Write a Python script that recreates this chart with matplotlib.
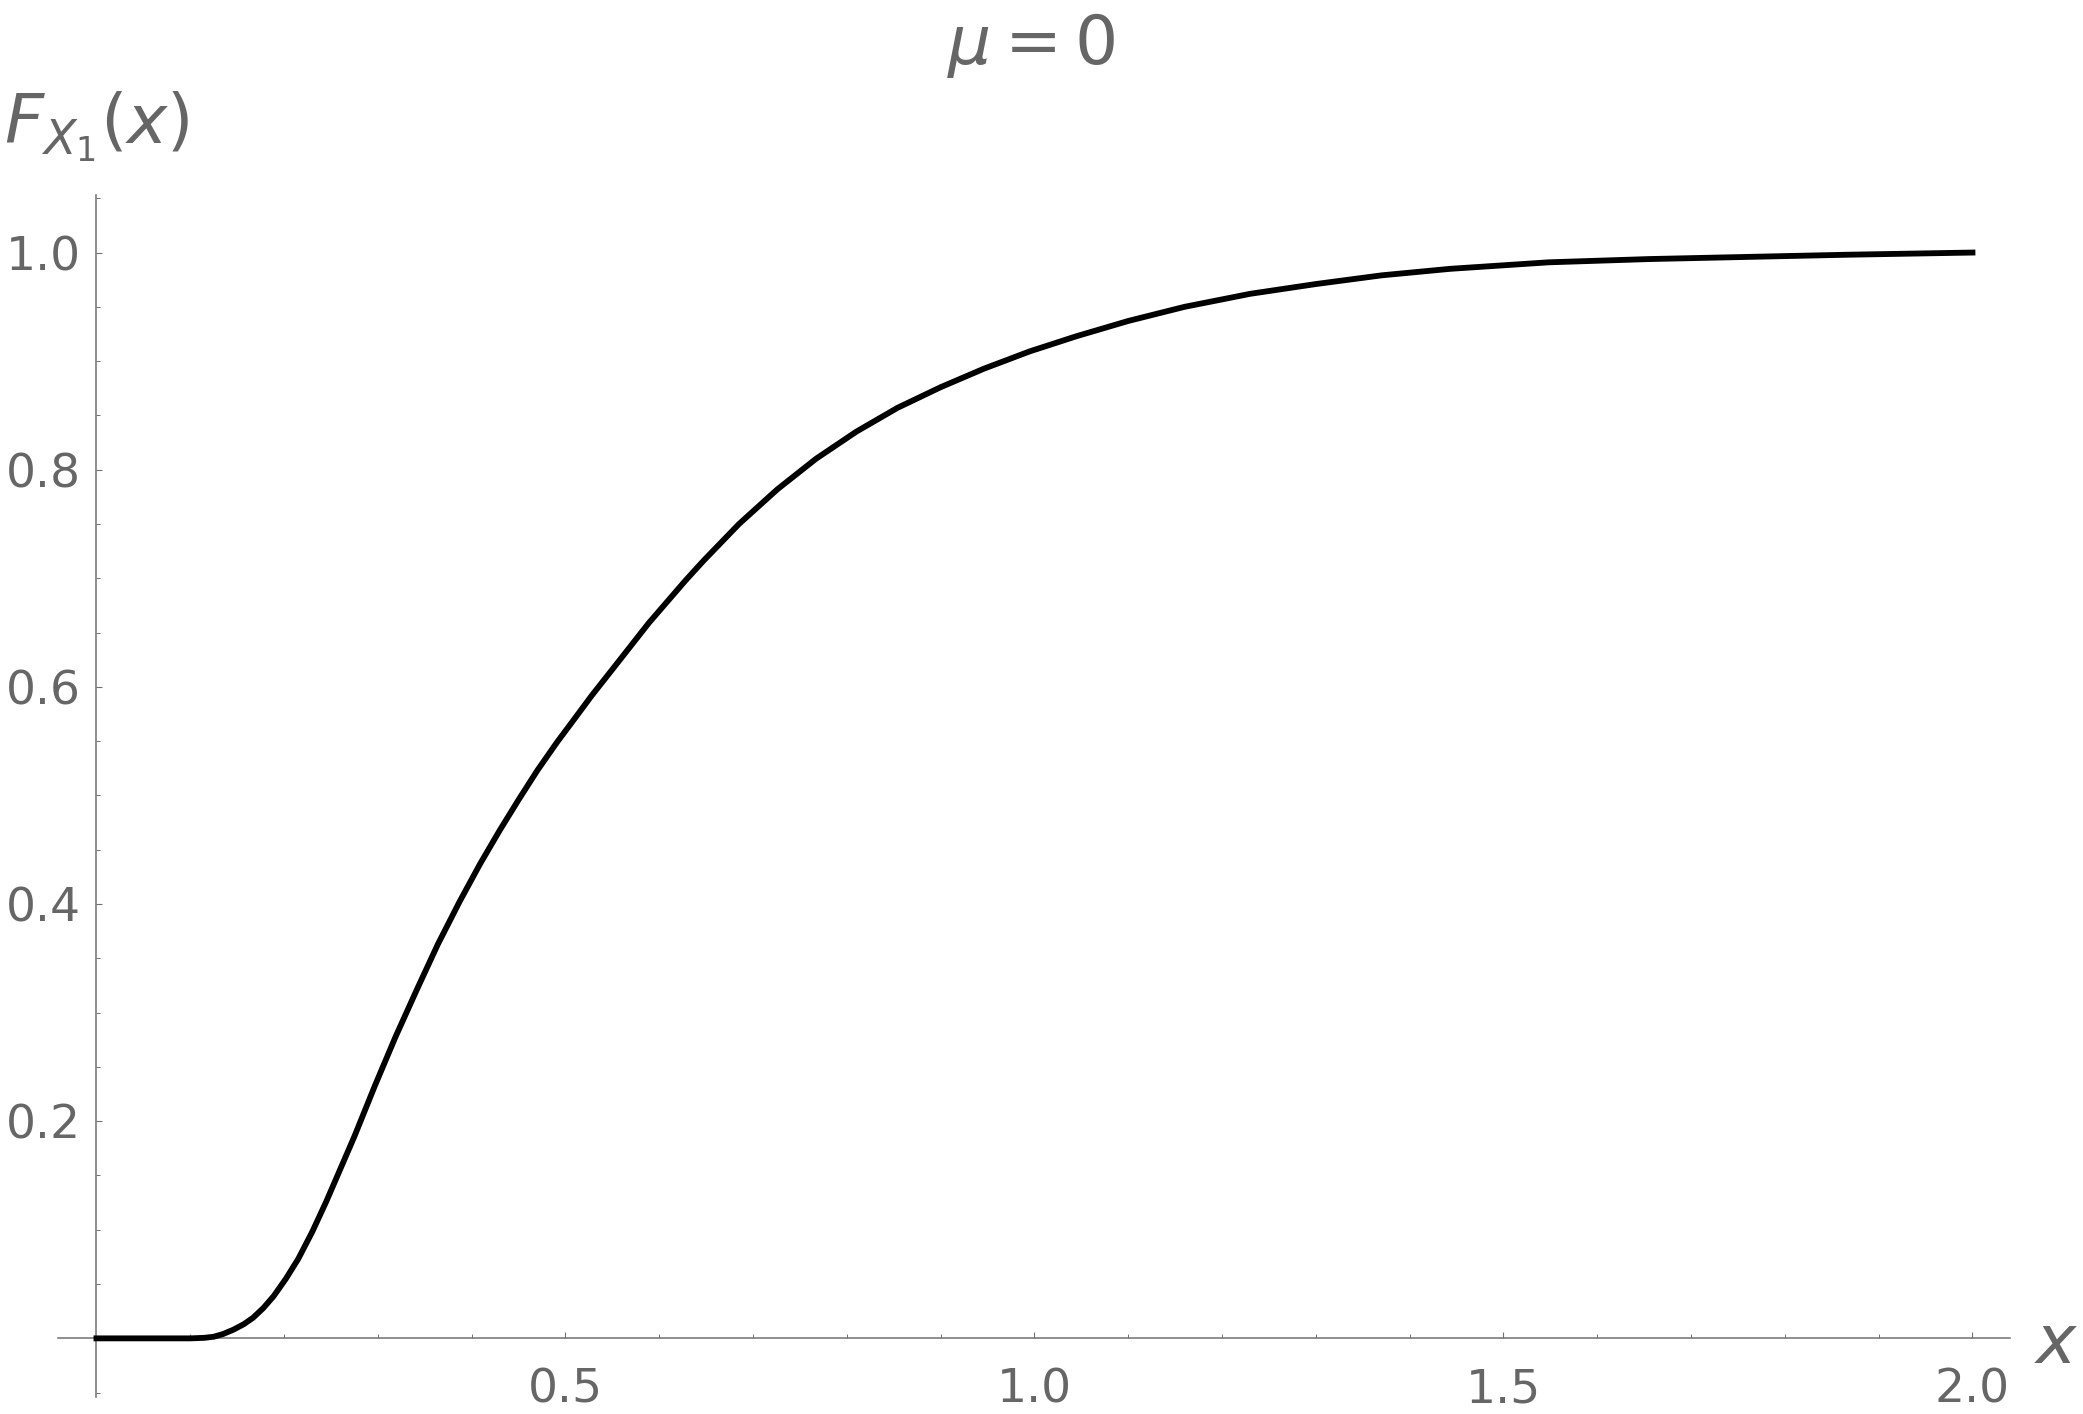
import matplotlib
matplotlib.use("Agg")
import matplotlib.pyplot as plt
import numpy as np

# CDF
x_vals = [0.0, 0.05, 0.10, 0.115, 0.125, 0.135, 0.146, 0.157, 0.167, 0.178,
          0.189, 0.202, 0.215, 0.23, 0.245, 0.26, 0.275, 0.297, 0.319, 0.342,
          0.364, 0.387, 0.409, 0.43, 0.45, 0.47, 0.491, 0.51, 0.528, 0.549,
          0.569, 0.589, 0.609, 0.628, 0.647, 0.666, 0.685, 0.726, 0.767, 0.81,
          0.854, 0.9, 0.946, 0.995, 1.045, 1.1, 1.16, 1.23, 1.3, 1.37, 1.443,
          1.548, 1.655, 1.761, 1.867, 2.0]
y_vals = [0.0, 0.0, 0.0, 0.0005, 0.0015, 0.004, 0.008, 0.013, 0.019, 0.028,
          0.039, 0.055, 0.073, 0.098, 0.126, 0.156, 0.186, 0.233, 0.278, 0.322,
          0.363, 0.402, 0.437, 0.468, 0.496, 0.523, 0.549, 0.571, 0.592, 0.615,
          0.637, 0.659, 0.679, 0.698, 0.716, 0.733, 0.750, 0.782, 0.810, 0.835,
          0.857, 0.876, 0.893, 0.909, 0.923, 0.937, 0.950, 0.962, 0.971, 0.979,
          0.985, 0.991, 0.994, 0.996, 0.998, 1.0]

x_major = [0.5, 1.0, 1.5, 2.0]
x_minor = [0.1, 0.2, 0.3, 0.4, 0.6, 0.7, 0.8, 0.9, 1.1, 1.2, 1.3, 1.4,
           1.6, 1.7, 1.8, 1.9]
y_major = [0.2, 0.4, 0.6, 0.8, 1.0]
y_minor = [-0.05, 0.05, 0.1, 0.15, 0.25, 0.3, 0.35, 0.45, 0.5, 0.55, 0.65,
           0.7, 0.75, 0.85, 0.9, 0.95, 1.05]

gray = '#666666'
axis_gray = '#707070'
plt.rcParams['mathtext.fontset'] = 'dejavusans'

fig = plt.figure(figsize=(20.83, 14.14), dpi=100)
ax = fig.add_axes([0.02784, 0.01202, 0.93711, 0.85007])

ax.plot(x_vals, y_vals, color='black', linewidth=4.2, zorder=3)

ax.set_xlim(-0.041, 2.04)
ax.set_ylim(-0.054, 1.053)

# Mathematica-style axes crossing at the origin
ax.spines['left'].set_position(('data', 0))
ax.spines['bottom'].set_position(('data', 0))
ax.spines['top'].set_visible(False)
ax.spines['right'].set_visible(False)
for s in ('left', 'bottom'):
    ax.spines[s].set_color(axis_gray)
    ax.spines[s].set_linewidth(1.1)

ax.set_xticks(x_major)
ax.set_xticklabels([f'{v:.1f}' for v in x_major])
ax.set_xticks(x_minor, minor=True)
ax.set_yticks(y_major)
ax.set_yticklabels([f'{v:.1f}' for v in y_major])
ax.set_yticks(y_minor, minor=True)

ax.tick_params(which='major', direction='in', length=4.3, width=0.8,
               color=axis_gray, labelsize=34, labelcolor=gray)
ax.tick_params(which='minor', direction='in', length=2.6, width=0.7,
               color=axis_gray)
ax.tick_params(axis='x', which='major', pad=21)
ax.tick_params(axis='y', which='major', pad=11)

# title and axis labels
fig.text(1031 / 2083, 1 - 64 / 1414, r'$\mu = 0$', color=gray, fontsize=49,
         ha='center', va='baseline')
fig.text(4 / 2083, 1 - 143 / 1414, r'$F_{X_1}(x)$', color=gray, fontsize=49,
         ha='left', va='baseline')
fig.text(2079 / 2083, 1 - 1363 / 1414, r'$x$', color=gray, fontsize=49,
         ha='right', va='baseline')

fig.savefig('out.png', dpi=100)
